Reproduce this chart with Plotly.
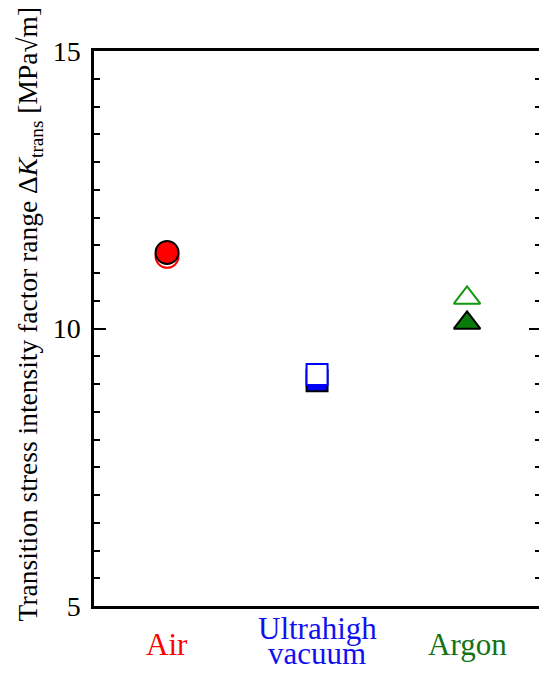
import plotly.graph_objects as go

# Test environments and the transition stress intensity factor range measured in each
categories = ["Air", "Ultrahigh<br>vacuum", "Argon"]
label_colors = ["#ff0000", "#1010f0", "#137313"]

# Two specimens per environment: open and filled symbols
open_values = [11.30, 9.17, 10.55]
filled_values = [11.37, 9.06, 10.10]

symbols = ["circle", "square", "triangle-up"]
open_line_colors = ["#ff0000", "#0000ff", "#119911"]
filled_colors = ["#ff0000", "#0000ff", "#0a7a0a"]
marker_sizes = [23, 21, 23]
# which symbol is drawn on top for each environment
filled_on_top = [True, False, True]

SERIF = "Liberation Serif, Times New Roman, serif"

W, H = 544, 675
ML, MR, MT, MB = 94, 0, 51, 69
plot_w = W - ML - MR
plot_h = H - MT - MB

fig = go.Figure()

for i, cat in enumerate(categories):
    open_tr = go.Scatter(
        x=[i], y=[open_values[i]], mode="markers", showlegend=False,
        marker=dict(symbol=symbols[i], size=marker_sizes[i], color="white",
                    line=dict(color=open_line_colors[i], width=2)),
    )
    filled_tr = go.Scatter(
        x=[i], y=[filled_values[i]], mode="markers", showlegend=False,
        marker=dict(symbol=symbols[i], size=marker_sizes[i], color=filled_colors[i],
                    line=dict(color="black", width=2)),
    )
    if filled_on_top[i]:
        fig.add_trace(open_tr)
        fig.add_trace(filled_tr)
    else:
        fig.add_trace(filled_tr)
        fig.add_trace(open_tr)

# category labels under the axis, one annotation per text line
line_centers = {1: [-0.0690], 2: [-0.0400, -0.0860]}
for i, (cat, col) in enumerate(zip(categories, label_colors)):
    lines = cat.split("<br>")
    for line, yc in zip(lines, line_centers[len(lines)]):
        fig.add_annotation(
            x=i, xref="x", y=yc, yref="paper", text=line, showarrow=False,
            xanchor="center", yanchor="middle",
            font=dict(family=SERIF, size=31, color=col),
        )

# y-axis title
fig.add_annotation(
    x=(29 - ML) / plot_w, xref="paper", y=(H - MB - 314) / plot_h, yref="paper",
    text="Transition stress intensity factor range Δ<i>K</i><sub>trans</sub> [MPa√m]",
    textangle=-90, showarrow=False, xanchor="center", yanchor="middle",
    font=dict(family=SERIF, size=27.5, color="black"),
)

fig.update_xaxes(
    range=[-0.487, 2.493], showgrid=False, zeroline=False,
    showline=True, linecolor="black", linewidth=2.5, mirror=True,
    tickvals=[], ticks="",
)
fig.update_yaxes(
    range=[5, 15], showgrid=False, zeroline=False,
    showline=True, linecolor="black", linewidth=2.5, mirror="ticks",
    tickvals=[5, 10, 15], ticks="inside", ticklen=12, tickwidth=2, tickcolor="black",
    ticklabelstandoff=5,
    tickfont=dict(family=SERIF, size=28, color="black"),
    minor=dict(ticks="inside", dtick=0.5, ticklen=6, tickwidth=2, tickcolor="black", showgrid=False),
)

fig.update_layout(
    width=W, height=H,
    margin=dict(l=ML, r=MR, t=MT, b=MB),
    plot_bgcolor="white", paper_bgcolor="white",
    font=dict(family=SERIF),
)

fig.write_html("out.html")
